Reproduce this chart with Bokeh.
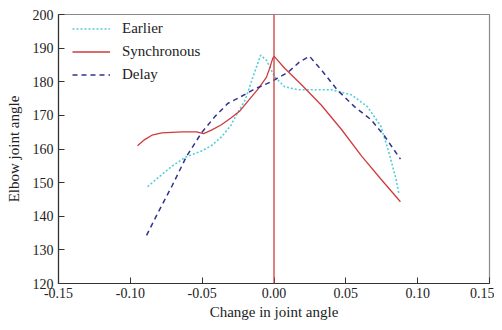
from bokeh.plotting import figure
from bokeh.models import FixedTicker, PrintfTickFormatter, Span, Legend, LegendItem
from bokeh.embed import file_html
from bokeh.resources import INLINE

# ---- data ----
sync_x = [-0.095, -0.090, -0.085, -0.078, -0.064, -0.054, -0.049, -0.0435, -0.0366, -0.030,
          -0.024, -0.018, -0.011, -0.0053, -0.003, -0.001, 0.000, 0.0074, 0.019, 0.033,
          0.047, 0.061, 0.0745, 0.088]
sync_y = [161.0, 162.8, 164.1, 164.8, 165.1, 165.1, 164.6, 165.6, 167.2, 169.2,
          171.2, 174.3, 177.9, 181.3, 184.0, 186.8, 187.6, 184.0, 179.2, 173.0,
          165.8, 157.9, 151.0, 144.3]

early_x = [-0.088, -0.0806, -0.071, -0.061, -0.0505, -0.0435, -0.0366, -0.030, -0.027, -0.020,
           -0.0146, -0.0093, -0.0053, 0.0004, 0.0074, 0.0167, 0.028, 0.040, 0.054, 0.065,
           0.0745, 0.080, 0.085, 0.087]
early_y = [148.8, 151.5, 154.9, 157.7, 159.4, 161.0, 163.6, 167.0, 169.5, 174.6,
           181.5, 187.9, 186.4, 181.5, 178.5, 177.6, 177.6, 177.6, 176.1, 172.6,
           166.7, 158.9, 151.0, 146.5]

delay_x = [-0.0887, -0.0806, -0.071, -0.061, -0.0505, -0.041, -0.032, -0.025, -0.0146, -0.002,
           0.0097, 0.0178, 0.0247, 0.033, 0.044, 0.056, 0.0676, 0.077, 0.088]
delay_y = [134.3, 141.2, 149.0, 157.7, 164.8, 169.7, 173.6, 175.1, 177.6, 180.0,
           182.8, 185.9, 187.6, 183.5, 177.6, 172.6, 168.7, 163.8, 157.0]

x_ticks = [-0.15, -0.10, -0.05, 0.00, 0.05, 0.10, 0.15]
y_ticks = [120, 130, 140, 150, 160, 170, 180, 190, 200]
series_names = ["Earlier", "Synchronous", "Delay"]

FONT = "Liberation Serif"
C_EARLY = "#52cfd9"
C_SYNC = "#cf3b3d"
C_DELAY = "#30338f"

FW, FH = 431, 269

p = figure(frame_width=FW, frame_height=FH, x_range=(-0.15, 0.15), y_range=(120, 200),
           output_backend="svg", toolbar_location=None,
           min_border_left=58, min_border_top=14, min_border_right=5, min_border_bottom=2)
p.grid.visible = False
p.background_fill_color = "white"
p.border_fill_color = "white"
p.outline_line_color = "#8a8a8a"
p.outline_line_width = 1.2

for ax in (p.xaxis[0], p.yaxis[0]):
    ax.axis_line_color = "#333333"
    ax.axis_line_width = 1.2
    ax.major_tick_in = 6
    ax.major_tick_out = 0
    ax.major_tick_line_color = "#333333"
    ax.minor_tick_line_color = None
    ax.major_label_text_font = FONT
    ax.major_label_text_font_size = "14px"
    ax.major_label_text_color = "#222222"
    ax.axis_label_text_font = FONT
    ax.axis_label_text_font_size = "15px"
    ax.axis_label_text_font_style = "normal"
    ax.axis_label_text_color = "#222222"

p.xaxis.ticker = FixedTicker(ticks=x_ticks)
p.xaxis.formatter = PrintfTickFormatter(format="%.2f")
p.yaxis.ticker = FixedTicker(ticks=y_ticks)
p.xaxis.axis_label = "Change in joint angle"
p.yaxis.axis_label = "Elbow joint angle"
p.xaxis.major_label_standoff = 4
p.yaxis.major_label_standoff = 5
p.xaxis.axis_label_standoff = 3
p.yaxis.axis_label_standoff = 8

p.add_layout(Span(location=0, dimension="height", line_color=C_SYNC, line_width=1.3))

r_e = p.line(early_x, early_y, line_color=C_EARLY, line_width=1.6, line_dash="2 2")
r_s = p.line(sync_x, sync_y, line_color=C_SYNC, line_width=1.3)
r_d = p.line(delay_x, delay_y, line_color=C_DELAY, line_width=1.5, line_dash="5 4")

gh, sp = 17, 6
leg_h = 3 * gh + 2 * sp
legend = Legend(items=[LegendItem(label=series_names[0], renderers=[r_e]),
                       LegendItem(label=series_names[1], renderers=[r_s]),
                       LegendItem(label=series_names[2], renderers=[r_d])],
                location=(14, FH - 6 - leg_h), padding=0, margin=0, spacing=sp,
                glyph_width=38, glyph_height=gh, label_height=gh, label_standoff=12,
                label_text_font=FONT, label_text_font_size="15px", label_text_color="#222222",
                border_line_color=None, background_fill_alpha=0)
p.add_layout(legend)

open("out.html", "w").write(file_html(p, INLINE))
